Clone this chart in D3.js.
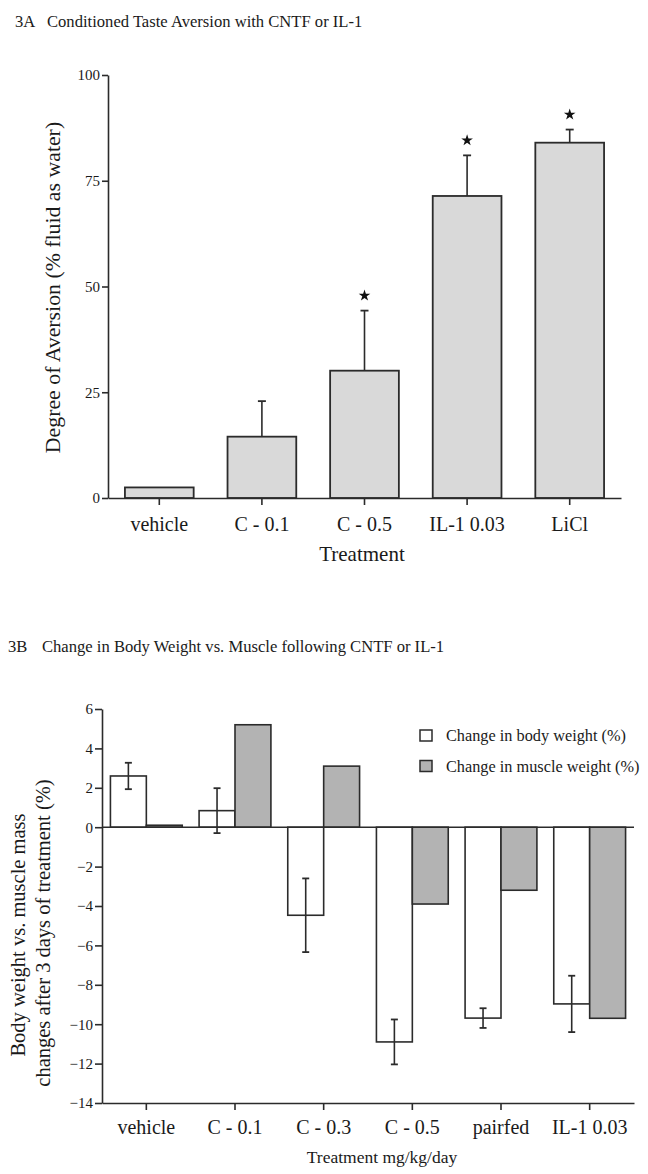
<!DOCTYPE html>
<html>
<head>
<meta charset="utf-8">
<script src="https://cdn.jsdelivr.net/npm/d3@7"></script>
<style>
  html, body { margin: 0; padding: 0; background: #ffffff; }
  svg { display: block; }
  text { font-family: "Liberation Serif", "Times New Roman", serif; fill: #1a1a1a; }
</style>
</head>
<body>
<script>
// ---------- Data: Figure 3A ----------
const catsA = ["vehicle", "C - 0.1", "C - 0.5", "IL-1 0.03", "LiCl"];
const valsA = [2.5, 14.5, 30.1, 71.4, 84.0];
const errA  = [0, 8.4, 14.2, 9.6, 3.1];
const sigA  = [false, false, true, true, true];
const ticksA = [0, 25, 50, 75, 100];

// ---------- Data: Figure 3B ----------
const catsB    = ["vehicle", "C - 0.1", "C - 0.3", "C - 0.5", "pairfed", "IL-1 0.03"];
const seriesB  = ["Change in body weight (%)", "Change in muscle weight (%)"];
const bodyB    = [2.6, 0.84, -4.47, -10.9, -9.69, -8.97];
const bodyErrB = [0.67, 1.14, 1.87, 1.14, 0.5, 1.43];
const muscleB  = [0.1, 5.2, 3.1, -3.9, -3.2, -9.7];
const ticksB   = [6, 4, 2, 0, -2, -4, -6, -8, -10, -12, -14];

const W = 648, H = 1174;
const INK = "#2b2b2b";
const svg = d3.select("body").append("svg").attr("width", W).attr("height", H);

// ================= Figure 3A =================
svg.append("text").attr("x", 15).attr("y", 27).attr("font-size", 16.6).text("3A");
svg.append("text").attr("x", 47).attr("y", 27).attr("font-size", 16.6)
  .text("Conditioned Taste Aversion with CNTF or IL-1");

const xA = d3.scaleBand().domain(catsA).range([108, 621]).paddingInner(0.33).paddingOuter(0.165);
const yA = d3.scaleLinear().domain([0, 100]).range([498, 75]);

const gA = svg.append("g");
gA.selectAll("rect.bar").data(catsA).join("rect")
  .attr("class", "bar")
  .attr("x", d => xA(d))
  .attr("width", xA.bandwidth())
  .attr("y", (d, i) => yA(valsA[i]))
  .attr("height", (d, i) => yA(0) - yA(valsA[i]))
  .attr("fill", "#d9d9d9").attr("stroke", INK).attr("stroke-width", 1.8);

catsA.forEach((c, i) => {
  if (errA[i] <= 0) return;
  const cx = xA(c) + xA.bandwidth() / 2;
  gA.append("line").attr("x1", cx).attr("x2", cx)
    .attr("y1", yA(valsA[i])).attr("y2", yA(valsA[i] + errA[i]))
    .attr("stroke", INK).attr("stroke-width", 1.6);
  gA.append("line").attr("x1", cx - 4).attr("x2", cx + 4)
    .attr("y1", yA(valsA[i] + errA[i])).attr("y2", yA(valsA[i] + errA[i]))
    .attr("stroke", INK).attr("stroke-width", 1.8);
  if (sigA[i]) {
    gA.append("path")
      .attr("d", d3.symbol().type(d3.symbolStar).size(42)())
      .attr("transform", `translate(${cx},${yA(valsA[i] + errA[i]) - 15})`)
      .attr("fill", "#111");
  }
});

const axLA = svg.append("g").attr("transform", `translate(108,0)`)
  .call(d3.axisLeft(yA).tickValues(ticksA).tickSize(6).tickSizeOuter(0).tickPadding(2));
const axBA = svg.append("g").attr("transform", `translate(0,498)`)
  .call(d3.axisBottom(xA).tickSize(7).tickSizeOuter(0).tickPadding(12));
[axLA, axBA].forEach(a => {
  a.selectAll("path.domain").attr("stroke", INK).attr("stroke-width", 1.6);
  a.selectAll(".tick line").attr("stroke", INK).attr("stroke-width", 1.6);
});
axLA.selectAll(".tick text").attr("font-size", 15).attr("fill", "#1a1a1a");
axBA.selectAll(".tick text").attr("font-size", 20).attr("fill", "#1a1a1a");

svg.append("text").attr("transform", "translate(59.5,287.5) rotate(-90)")
  .attr("text-anchor", "middle").attr("font-size", 21.8)
  .text("Degree of Aversion (% fluid as water)");
svg.append("text").attr("x", 362).attr("y", 561).attr("text-anchor", "middle")
  .attr("font-size", 21).text("Treatment");

// ================= Figure 3B =================
svg.append("text").attr("x", 8).attr("y", 652).attr("font-size", 16.6).text("3B");
svg.append("text").attr("x", 42).attr("y", 652).attr("font-size", 16.6)
  .text("Change in Body Weight vs. Muscle following CNTF or IL-1");

const xB = d3.scaleBand().domain(catsB).range([102, 634]).paddingInner(0.19).paddingOuter(0.095);
const xSub = d3.scaleBand().domain(seriesB).range([0, xB.bandwidth()]);
const yB = d3.scaleLinear().domain([-14, 6]).range([1103, 709]);
const fillB = d3.scaleOrdinal().domain(seriesB).range(["#ffffff", "#b3b3b3"]);

const gB = svg.append("g");
const rowsB = catsB.map((c, i) => ({ c, vals: [bodyB[i], muscleB[i]], err: bodyErrB[i] }));

const groups = gB.selectAll("g.grp").data(rowsB).join("g")
  .attr("class", "grp").attr("transform", d => `translate(${xB(d.c)},0)`);

groups.selectAll("rect").data(d => d.vals.map((v, k) => ({ s: seriesB[k], v }))).join("rect")
  .attr("x", d => xSub(d.s))
  .attr("width", xSub.bandwidth())
  .attr("y", d => yB(Math.max(0, d.v)))
  .attr("height", d => Math.abs(yB(d.v) - yB(0)))
  .attr("fill", d => fillB(d.s))
  .attr("stroke", INK).attr("stroke-width", 1.6);

rowsB.forEach(r => {
  const cx = xB(r.c) + xSub(seriesB[0]) + xSub.bandwidth() / 2;
  const hi = yB(r.vals[0] + r.err), lo = yB(r.vals[0] - r.err);
  gB.append("line").attr("x1", cx).attr("x2", cx).attr("y1", hi).attr("y2", lo)
    .attr("stroke", INK).attr("stroke-width", 1.6);
  [hi, lo].forEach(y => gB.append("line").attr("x1", cx - 3.5).attr("x2", cx + 3.5)
    .attr("y1", y).attr("y2", y).attr("stroke", INK).attr("stroke-width", 1.8));
});

svg.append("line").attr("x1", 102).attr("x2", 634).attr("y1", yB(0)).attr("y2", yB(0))
  .attr("stroke", INK).attr("stroke-width", 1.6);

const axLB = svg.append("g").attr("transform", `translate(102,0)`)
  .call(d3.axisLeft(yB).tickValues(ticksB).tickSize(7).tickSizeOuter(0).tickPadding(2));
const axBB = svg.append("g").attr("transform", `translate(0,1103)`)
  .call(d3.axisBottom(xB).tickSize(7).tickSizeOuter(0).tickPadding(10));
[axLB, axBB].forEach(a => {
  a.selectAll("path.domain").attr("stroke", INK).attr("stroke-width", 1.6);
  a.selectAll(".tick line").attr("stroke", INK).attr("stroke-width", 1.6);
});
axLB.selectAll(".tick text").attr("font-size", 15).attr("fill", "#1a1a1a");
axBB.selectAll(".tick text").attr("font-size", 20).attr("fill", "#1a1a1a");

svg.append("text").attr("transform", "translate(24.5,935) rotate(-90)")
  .attr("text-anchor", "middle").attr("font-size", 20.5)
  .text("Body weight vs. muscle mass");
svg.append("text").attr("transform", "translate(50,933) rotate(-90)")
  .attr("text-anchor", "middle").attr("font-size", 20.5)
  .text("changes after 3 days of treatment (%)");
svg.append("text").attr("x", 382).attr("y", 1163).attr("text-anchor", "middle")
  .attr("font-size", 17.5).text("Treatment mg/kg/day");

const leg = svg.append("g");
seriesB.forEach((s, k) => {
  const y0 = 730 + k * 30.5;
  leg.append("rect").attr("x", 420).attr("y", y0).attr("width", 12).attr("height", 11)
    .attr("fill", fillB(s)).attr("stroke", INK).attr("stroke-width", 1.5);
  leg.append("text").attr("x", 446).attr("y", y0 + 11).attr("font-size", 16.3).text(s);
});
</script>
</body>
</html>
